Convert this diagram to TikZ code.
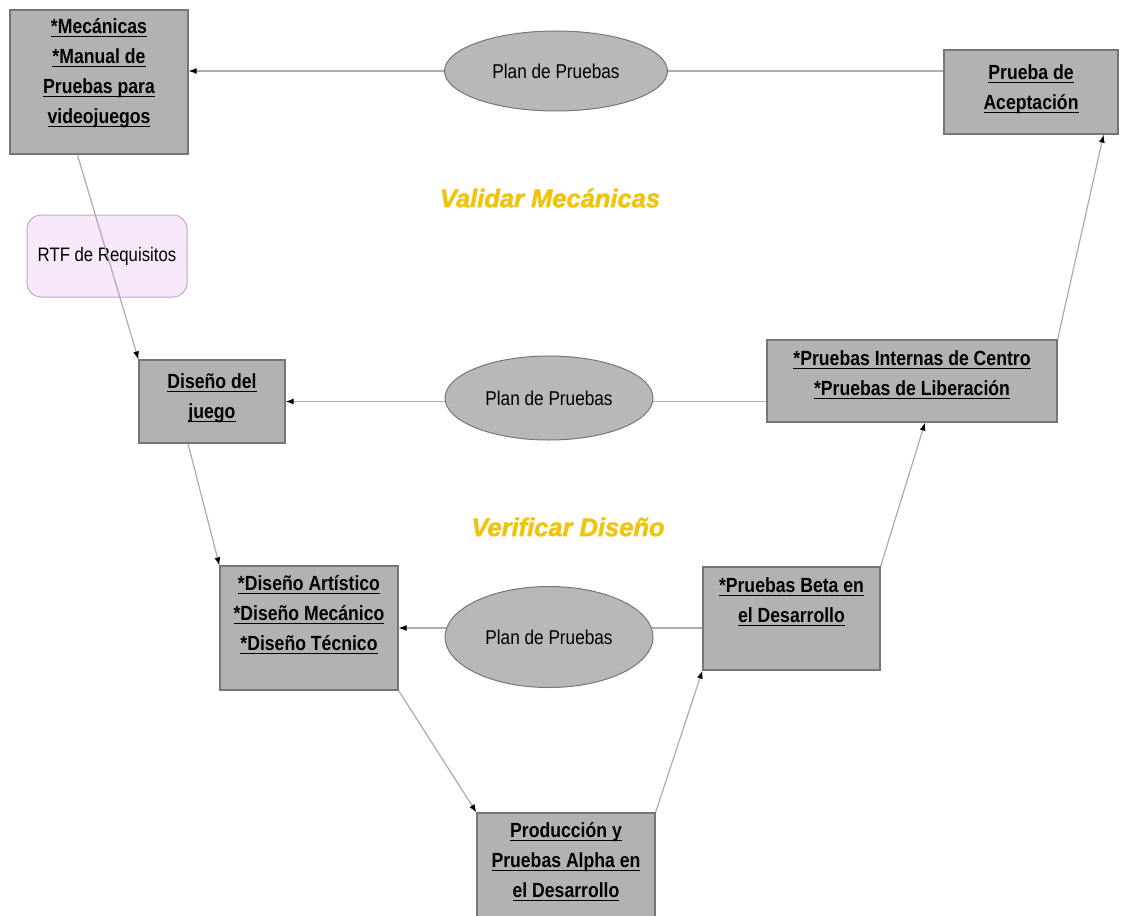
\documentclass[tikz,border=0pt]{standalone}
\usepackage{fontspec}
\setmainfont{Liberation Sans}
\newfontfamily\narrowfont[FakeStretch=0.86]{Liberation Sans}
\newfontfamily\heavyfont[FakeBold=1.6]{Liberation Sans}
\usetikzlibrary{arrows.meta,shapes.geometric,backgrounds}
\definecolor{boxgray}{RGB}{178,178,178}
\definecolor{boxedge}{RGB}{118,118,118}
\definecolor{ellgray}{RGB}{184,184,184}
\definecolor{linegray}{RGB}{172,172,172}
\definecolor{gold}{RGB}{240,196,10}
\definecolor{rtffill}{RGB}{247,232,250}
\definecolor{rtfedge}{RGB}{200,162,212}
\newsavebox\ulbox
\newcommand\ulx[1]{\sbox\ulbox{#1}\rlap{\usebox\ulbox}\rule[-3.5pt]{\wd\ulbox}{1.4pt}}
\tikzset{
  gbox/.style={rectangle, draw=boxedge, fill=boxgray, line width=1.2pt, inner sep=0pt},
  boxtext/.style={anchor=north, inner sep=0pt, align=center, font=\narrowfont\fontsize{20.5}{30}\bfseries\selectfont},
  plan/.style={ellipse, draw=boxedge, fill=ellgray, line width=1pt, inner sep=0pt, font=\narrowfont\fontsize{20}{22}\selectfont},
  conn/.style={draw=linegray, line width=1.2pt, -{Latex[length=8pt,width=6pt,black]}},
  title/.style={font=\heavyfont\fontsize{25.5}{30}\bfseries\itshape\selectfont, text=gold, inner sep=0pt}
}
\begin{document}
\begin{tikzpicture}[x=1pt,y=-1pt]
\useasboundingbox (0,0) rectangle (1131,915);
% boxes
\node[gbox, minimum width=178pt, minimum height=144pt] (b1) at (99,82) {};
\node[gbox, minimum width=174pt, minimum height=84pt] (acep) at (1031,92) {};
\node[rectangle, rounded corners=14pt, draw=rtfedge, fill=rtffill, line width=1pt, minimum width=160pt, minimum height=82pt, font=\narrowfont\fontsize{19.5}{22}\selectfont, inner sep=0pt] (rtf) at (107,256) {RTF de Requisitos};
\node[gbox, minimum width=146pt, minimum height=83pt] (dj) at (212,401.5) {};
\node[gbox, minimum width=290pt, minimum height=82pt] (intern) at (912,381) {};
\node[gbox, minimum width=178pt, minimum height=124pt] (da) at (309,628) {};
\node[gbox, minimum width=177pt, minimum height=103pt] (beta) at (791.5,618.5) {};
\node[gbox, minimum width=178pt, minimum height=112pt] (prod) at (566,869) {};
% texts in boxes
\node[boxtext, yshift=-9pt] (t1) at (b1.north) {\ulx{*Mecánicas}\\\ulx{*Manual de}\\\ulx{Pruebas para}\\\ulx{videojuegos}};
\node[boxtext, yshift=-15pt] (tacep) at (acep.north) {\ulx{Prueba de}\\\ulx{Aceptación}};
\node[boxtext, yshift=-14pt] (tdj) at (dj.north) {\ulx{Diseño del}\\\ulx{juego}};
\node[boxtext, yshift=-11pt] (tintern) at (intern.north) {\ulx{*Pruebas Internas de Centro}\\\ulx{*Pruebas de Liberación}};
\node[boxtext, yshift=-10pt] (tda) at (da.north) {\ulx{*Diseño Artístico}\\\ulx{*Diseño Mecánico}\\\ulx{*Diseño Técnico}};
\node[boxtext, yshift=-11pt] (tbeta) at (beta.north) {\ulx{*Pruebas Beta en}\\\ulx{el Desarrollo}};
\node[boxtext, yshift=-10pt] (tprod) at (prod.north) {\ulx{Producción y}\\\ulx{Pruebas Alpha en}\\\ulx{el Desarrollo}};
% ellipses
\node[plan, minimum width=223pt, minimum height=80pt] (e1) at (556,71) {Plan de Pruebas};
\node[plan, minimum width=208pt, minimum height=84pt] (e2) at (549,398) {Plan de Pruebas};
\node[plan, minimum width=208pt, minimum height=101pt] (e3) at (549,637) {Plan de Pruebas};
% titles
\node[title] (val) at (550,198) {Validar Mecánicas};
\node[title] (ver) at (568,527) {Verificar Diseño};
% connectors over the requirements note
\draw[conn] ([xshift=68pt]b1.south west) -- (dj.north west);
% connectors behind the shapes
\begin{pgfonlayer}{background}
\fill[white] (0,0) rectangle (1131,915);
\draw[conn] (acep.west |- e1) -- (b1.east |- e1);
\draw[conn] (intern.west |- dj) -- (dj.east);
\draw[conn] (beta.west |- da) -- (da.east);
\draw[conn] ([xshift=-24pt]dj.south) -- (da.north west);
\draw[conn] (da.south east) -- (prod.north west);
\draw[conn] (prod.north east) -- (beta.south west);
\draw[conn] (beta.north east) -- ([xshift=13pt]intern.south);
\draw[conn] (intern.north east) -- ([xshift=-15pt]acep.south east);
\end{pgfonlayer}
\end{tikzpicture}
\end{document}
